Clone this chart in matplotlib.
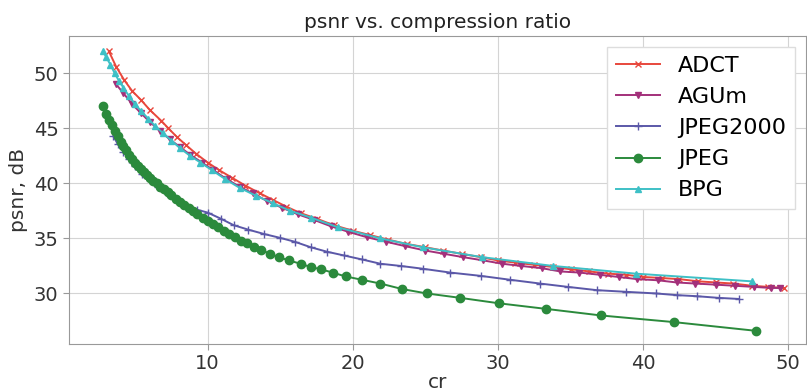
import matplotlib
matplotlib.use("Agg")
from matplotlib import pyplot as plt

# values
adct_cr = [3.2, 3.7, 4.25, 4.8, 5.4, 6.0, 6.8, 7.3, 7.9, 8.5, 9.2, 10.0, 10.8, 11.7, 12.6, 13.6,
           14.5, 15.4, 16.4, 17.5, 18.7, 20.0, 21.2, 22.4, 23.7, 25.0, 26.2, 27.5, 28.8, 30.0,
           31.2, 32.5, 33.8, 35.0, 36.3, 37.6, 38.8, 40.0, 41.3, 42.5, 43.8, 45.0, 46.2, 47.5,
           48.6, 49.7]
adct_psnr = [52.0, 50.6, 49.4, 48.4, 47.6, 46.7, 45.7, 45.0, 44.2, 43.5, 42.7, 41.9, 41.2, 40.5,
             39.8, 39.1, 38.5, 37.9, 37.3, 36.8, 36.2, 35.7, 35.3, 34.9, 34.5, 34.2, 33.9, 33.6,
             33.3, 33.0, 32.8, 32.6, 32.4, 32.2, 32.0, 31.8, 31.7, 31.5, 31.4, 31.3, 31.1, 31.0,
             30.9, 30.7, 30.6, 30.5]

agum_cr = [3.7, 4.2, 4.8, 5.4, 6.0, 6.7, 7.4, 8.1, 8.8, 9.6, 10.4, 11.3, 12.2, 13.1, 14.1, 15.1,
           16.2, 17.3, 18.5, 19.7, 21.0, 22.3, 23.6, 25.0, 26.3, 27.6, 29.0, 30.3, 31.6, 33.0,
           34.3, 35.6, 37.0, 38.3, 39.6, 41.0, 42.3, 43.6, 45.0, 46.3, 47.6, 48.8, 49.4]
agum_psnr = [49.0, 48.2, 47.2, 46.4, 45.6, 44.8, 44.0, 43.3, 42.6, 41.9, 41.2, 40.4, 39.7, 39.1,
             38.4, 37.8, 37.2, 36.7, 36.1, 35.6, 35.1, 34.7, 34.3, 33.9, 33.6, 33.3, 33.0, 32.7,
             32.5, 32.3, 32.0, 31.9, 31.7, 31.5, 31.3, 31.2, 31.0, 30.9, 30.8, 30.7, 30.6, 30.5,
             30.5]

j2k_cr = [3.5, 3.8, 4.2, 4.6, 5.0, 5.5, 6.0, 6.6, 7.2, 7.9, 8.6, 9.3, 10.0, 10.9, 11.8, 12.8,
          13.9, 15.0, 16.0, 17.1, 18.2, 19.4, 20.6, 21.9, 23.3, 24.8, 26.7, 28.8, 30.8, 32.9,
          34.8, 36.8, 38.8, 40.9, 42.3, 43.7, 45.2, 46.6]
j2k_psnr = [44.3, 43.6, 42.9, 42.2, 41.6, 40.9, 40.3, 39.7, 39.1, 38.4, 37.9, 37.6, 37.35, 36.8,
            36.2, 35.8, 35.4, 35.05, 34.7, 34.2, 33.8, 33.45, 33.1, 32.7, 32.5, 32.25, 31.9, 31.6,
            31.25, 30.9, 30.6, 30.3, 30.15, 30.0, 29.85, 29.75, 29.6, 29.5]

jpeg_cr = [2.8, 3.0, 3.2, 3.4, 3.6, 3.8, 4.0, 4.2, 4.4, 4.6, 4.8, 5.0, 5.2, 5.4, 5.6, 5.8, 6.0,
           6.25, 6.5, 6.75, 7.0, 7.25, 7.5, 7.8, 8.1, 8.4, 8.7, 9.0, 9.3, 9.65, 10.0, 10.35, 10.7,
           11.1, 11.5, 11.9, 12.3, 12.7, 13.2, 13.7, 14.3, 14.9, 15.6, 16.4, 17.1, 17.8, 18.6,
           19.5, 20.6, 21.9, 23.4, 25.1, 27.4, 30.1, 33.3, 37.1, 42.1, 47.8]
jpeg_psnr = [47.0, 46.3, 45.8, 45.3, 44.8, 44.3, 43.8, 43.4, 43.0, 42.6, 42.2, 41.9, 41.6, 41.3,
             41.0, 40.75, 40.5, 40.25, 40.0, 39.7, 39.45, 39.2, 38.95, 38.6, 38.3, 38.0, 37.75,
             37.5, 37.25, 36.9, 36.6, 36.3, 36.0, 35.7, 35.4, 35.1, 34.8, 34.55, 34.2, 33.95,
             33.6, 33.3, 33.0, 32.7, 32.4, 32.2, 31.9, 31.55, 31.25, 30.9, 30.4, 30.0, 29.6, 29.1,
             28.6, 28.0, 27.4, 26.6]

bpg_cr = [2.8, 3.0, 3.3, 3.6, 3.9, 4.2, 4.6, 5.0, 5.4, 5.9, 6.4, 6.9, 7.5, 8.1, 8.8, 9.5, 10.3,
          11.2, 12.2, 13.3, 14.5, 15.7, 17.1, 19.0, 21.9, 24.8, 28.9, 33.8, 39.5, 47.5]
bpg_psnr = [52.0, 51.5, 50.8, 50.0, 49.3, 48.7, 47.9, 47.2, 46.6, 45.9, 45.2, 44.6, 43.9, 43.2,
            42.5, 41.9, 41.2, 40.4, 39.6, 38.9, 38.2, 37.5, 36.9, 36.0, 35.0, 34.2, 33.3, 32.5,
            31.8, 31.1]

plt.rcParams['font.family'] = ['DejaVu Sans']

fig = plt.figure(figsize=(8.07, 3.91), dpi=100)
ax = fig.add_axes([0.0855, 0.12, 0.913, 0.788])

ax.plot(adct_cr, adct_psnr, color='#e8473c', marker='x', markersize=5, lw=1.4, label='ADCT')
ax.plot(agum_cr, agum_psnr, color='#a3307a', marker='v', markersize=4, lw=1.4, label='AGUm')
ax.plot(j2k_cr, j2k_psnr, color='#5b58a8', marker='+', markersize=6, lw=1.4, label='JPEG2000')
ax.plot(jpeg_cr, jpeg_psnr, color='#2b8a3c', marker='o', markersize=6, lw=1.4, label='JPEG')
ax.plot(bpg_cr, bpg_psnr, color='#3ec0c6', marker='^', markersize=5, lw=1.4, label='BPG')

ax.set_xlim(0.45, 51.2)
ax.set_ylim(25.4, 53.4)
ax.set_title('psnr vs. compression ratio', fontsize=14.5, color='#222222')
ax.set_xlabel('cr', fontsize=14.5, color='#333333', labelpad=0)
ax.set_ylabel('psnr, dB', fontsize=14.5, color='#333333')
ax.set_xticks([10, 20, 30, 40, 50])
ax.set_yticks([30, 35, 40, 45, 50])
ax.tick_params(labelsize=14, colors='#999999', labelcolor='#333333', length=4)
ax.grid(True, color='#d4d4d4', lw=0.8)
for s in ax.spines.values():
    s.set_color('#999999')

ax.legend(loc='upper right', fontsize=16, framealpha=1, edgecolor='#dddddd', fancybox=False)

fig.savefig('out.png', dpi=100)
